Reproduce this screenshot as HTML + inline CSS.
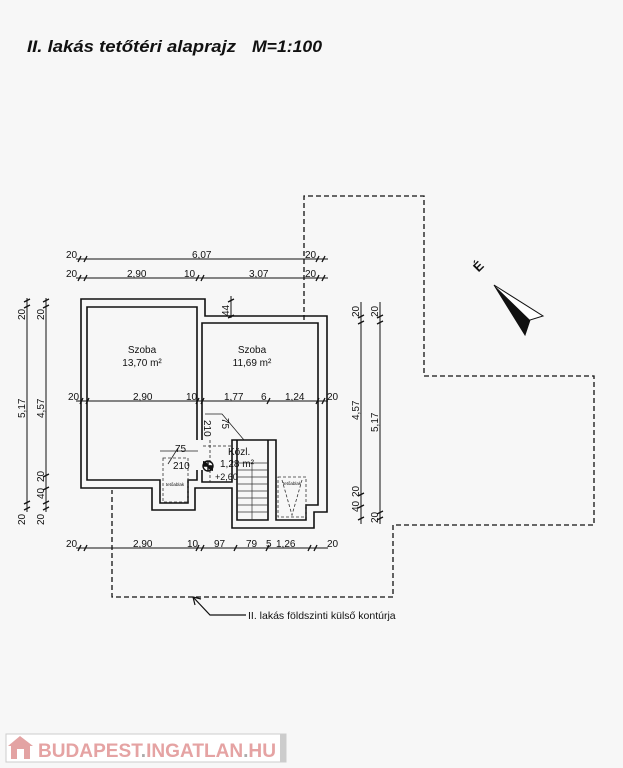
<!DOCTYPE html>
<html><head><meta charset="utf-8"><style>
html,body{margin:0;padding:0;background:#f7f7f7;}
svg{display:block;}
text{font-family:"Liberation Sans",sans-serif;fill:#111;}
</style></head><body>
<svg width="623" height="768" viewBox="0 0 623 768" xmlns="http://www.w3.org/2000/svg">
<rect width="623" height="768" fill="#f7f7f7"/>
<text x="27" y="52" font-size="17" font-weight="bold" font-style="italic" textLength="209" lengthAdjust="spacingAndGlyphs">II. lakás tetőtéri alaprajz</text>
<text x="252" y="52" font-size="17" font-weight="bold" font-style="italic" textLength="70" lengthAdjust="spacingAndGlyphs">M=1:100</text>

<!-- dashed ground floor contour -->
<path d="M304,320 V196 H424 V376 H594 V525 H393 V597 H112 V490" fill="none" stroke="#111" stroke-width="1.3" stroke-dasharray="5,3"/>
<path d="M193,597 L210,615 H246" fill="none" stroke="#111" stroke-width="1.2"/>
<path d="M193,597 l2,8 M193,597 l8,2" stroke="#111" stroke-width="1.2"/>
<text x="248" y="619" font-size="10.5">II. lakás földszinti külső kontúrja</text>

<!-- north arrow -->
<text x="478" y="271" font-size="13" font-weight="bold" transform="rotate(-45 478 266)" text-anchor="middle">É</text>
<path d="M494,285 L543,316 L530,320 L525,335 Z" fill="#fff" stroke="#111" stroke-width="1"/>
<path d="M494,285 L530,320 L525,335 Z" fill="#111"/>

<!-- walls -->
<g fill="none" stroke="#111" stroke-width="1.6">
<path d="M81,299 H205 V316 H327 V512 H314 V528 H232 V488 H195 V510 H152 V488 H81 Z"/>
<path d="M197,440 V307 H87 V480 H160 V503 H188 V480 H197 V470"/>
<path d="M202,440 V323 H318 V505 H306 V520 H276 V440 H232 V482 H202 V470"/>
<path d="M237,440 V520 H268 V440"/>
</g>
<!-- stairs -->
<g stroke="#333" stroke-width="0.7">
<line x1="252" y1="462" x2="252" y2="520"/>
<line x1="237" y1="470" x2="268" y2="470"/><line x1="237" y1="477" x2="268" y2="477"/>
<line x1="237" y1="484" x2="268" y2="484"/><line x1="237" y1="491" x2="268" y2="491"/>
<line x1="237" y1="498" x2="268" y2="498"/><line x1="237" y1="505" x2="268" y2="505"/>
<line x1="237" y1="512" x2="268" y2="512"/><line x1="237" y1="463" x2="268" y2="463"/>
</g>
<!-- skylights -->
<g fill="none" stroke="#333" stroke-width="0.8" stroke-dasharray="3,2">
<rect x="163" y="458" width="25" height="44"/>
<rect x="278" y="477" width="28" height="40"/>
<path d="M282,480 L292,515 L302,480"/>
</g>
<text x="175" y="486" font-size="4.5" text-anchor="middle">tetőablak</text>
<text x="292" y="485" font-size="4.5" text-anchor="middle">tetőablak</text>
<!-- door arcs / openings -->
<g fill="none" stroke="#222" stroke-width="0.8">
<path d="M205,414 H222 L244,440"/>
<path d="M160,451 H198" /><path d="M168,464 L178,448"/>
<line x1="210" y1="440" x2="210" y2="482" stroke-dasharray="3,2"/>
<line x1="203" y1="446" x2="232" y2="446" stroke-dasharray="3,2"/>
</g>
<circle cx="208" cy="466" r="5" fill="none" stroke="#111" stroke-width="1.4"/>
<path d="M203,466 h10 M208,461 v10" stroke="#111" stroke-width="1.4"/>
<path d="M203,461 a5,5 0 0 1 5,5 h-5 Z M213,471 a5,5 0 0 1 -5,-5 h5 Z" fill="#111"/>

<!-- room labels -->
<text x="142" y="353" font-size="10" text-anchor="middle">Szoba</text>
<text x="142" y="366" font-size="10" text-anchor="middle">13,70 m²</text>
<text x="252" y="353" font-size="10" text-anchor="middle">Szoba</text>
<text x="252" y="366" font-size="10" text-anchor="middle">11,69 m²</text>
<text x="228" y="455" font-size="10">Közl.</text>
<text x="220" y="467" font-size="10">1,28 m²</text>
<text x="215" y="480" font-size="9">+2,60</text>
<text x="173" y="469" font-size="10">210</text>
<text x="175" y="452" font-size="10">75</text>
<text x="204" y="420" font-size="10" transform="rotate(90 204 420)">210</text>
<text x="222" y="418" font-size="10" transform="rotate(90 222 418)">75</text>

<!-- dimension lines -->
<g stroke="#111" stroke-width="1" fill="none">
<line x1="76" y1="259" x2="328" y2="259"/>
<line x1="76" y1="278" x2="328" y2="278"/>
<line x1="76" y1="401" x2="328" y2="401"/>
<line x1="76" y1="548" x2="328" y2="548"/>
<line x1="27" y1="298" x2="27" y2="512"/>
<line x1="46" y1="298" x2="46" y2="512"/>
<line x1="361" y1="302" x2="361" y2="524"/>
<line x1="380" y1="302" x2="380" y2="524"/>
<line x1="231" y1="296" x2="231" y2="318"/>
</g>
<g stroke="#111" stroke-width="1.3">
<path d="M78,262 l3,-6 M84,262 l3,-6 M316,262 l3,-6 M322,262 l3,-6"/>
<path d="M78,281 l3,-6 M84,281 l3,-6 M196,281 l3,-6 M201,281 l3,-6 M316,281 l3,-6 M322,281 l3,-6"/>
<path d="M80,404 l3,-6 M86,404 l3,-6 M196,404 l3,-6 M201,404 l3,-6 M267,404 l3,-6 M316,404 l3,-6 M322,404 l3,-6"/>
<path d="M78,551 l3,-6 M84,551 l3,-6 M196,551 l3,-6 M201,551 l3,-6 M234,551 l3,-6 M266,551 l3,-6 M308,551 l3,-6 M314,551 l3,-6"/>
<path d="M24,302 l6,-3 M24,308 l6,-3 M24,504 l6,-3 M24,510 l6,-3"/>
<path d="M43,302 l6,-3 M43,308 l6,-3 M43,477 l6,-3 M43,490 l6,-3 M43,504 l6,-3 M43,510 l6,-3"/>
<path d="M358,318 l6,-3 M358,324 l6,-3 M358,496 l6,-3 M358,508 l6,-3 M358,520 l6,-3"/>
<path d="M377,318 l6,-3 M377,324 l6,-3 M377,514 l6,-3 M377,520 l6,-3"/>
<path d="M228,302 l6,-3 M228,318 l6,-3"/>
</g>
<g font-size="10">
<text x="66" y="258">20</text><text x="192" y="258">6,07</text><text x="305" y="258">20</text>
<text x="66" y="277">20</text><text x="127" y="277">2,90</text><text x="184" y="277">10</text><text x="249" y="277">3,07</text><text x="305" y="277">20</text>
<text x="68" y="400">20</text><text x="133" y="400">2,90</text><text x="186" y="400">10</text><text x="224" y="400">1,77</text><text x="261" y="400">6</text><text x="285" y="400">1,24</text><text x="327" y="400">20</text>
<text x="66" y="547">20</text><text x="133" y="547">2,90</text><text x="187" y="547">10</text><text x="214" y="547">97</text><text x="246" y="547">79</text><text x="266" y="547">5</text><text x="276" y="547">1,26</text><text x="327" y="547">20</text>
</g>
<g font-size="10">
<text transform="translate(25,320) rotate(-90)">20</text>
<text transform="translate(25,418) rotate(-90)">5,17</text>
<text transform="translate(25,525) rotate(-90)">20</text>
<text transform="translate(44,320) rotate(-90)">20</text>
<text transform="translate(44,418) rotate(-90)">4,57</text>
<text transform="translate(44,482) rotate(-90)">20</text>
<text transform="translate(44,499) rotate(-90)">40</text>
<text transform="translate(44,525) rotate(-90)">20</text>
<text transform="translate(359,317) rotate(-90)">20</text>
<text transform="translate(359,420) rotate(-90)">4,57</text>
<text transform="translate(359,497) rotate(-90)">20</text>
<text transform="translate(359,512) rotate(-90)">40</text>
<text transform="translate(378,317) rotate(-90)">20</text>
<text transform="translate(378,432) rotate(-90)">5,17</text>
<text transform="translate(378,523) rotate(-90)">20</text>
<text transform="translate(229,316) rotate(-90)">44</text>
</g>

<!-- watermark -->
<rect x="6" y="734" width="280" height="28" fill="#fff" stroke="#ccc"/>
<rect x="280" y="734" width="6" height="28" fill="#ccc"/>
<path d="M8,746 L20,736 L33,746 Z" fill="#e3a3a3"/>
<rect x="11" y="746" width="19" height="13" fill="#e3a3a3"/>
<rect x="17" y="749" width="7" height="10" fill="#fff"/>
<text x="38" y="757" font-size="19" font-weight="bold" textLength="238" lengthAdjust="spacingAndGlyphs" style="fill:#e5a3a3">BUDAPEST<tspan style="fill:#aaa">.</tspan>INGATLAN<tspan style="fill:#aaa">.</tspan>HU</text>
</svg>
</body></html>
